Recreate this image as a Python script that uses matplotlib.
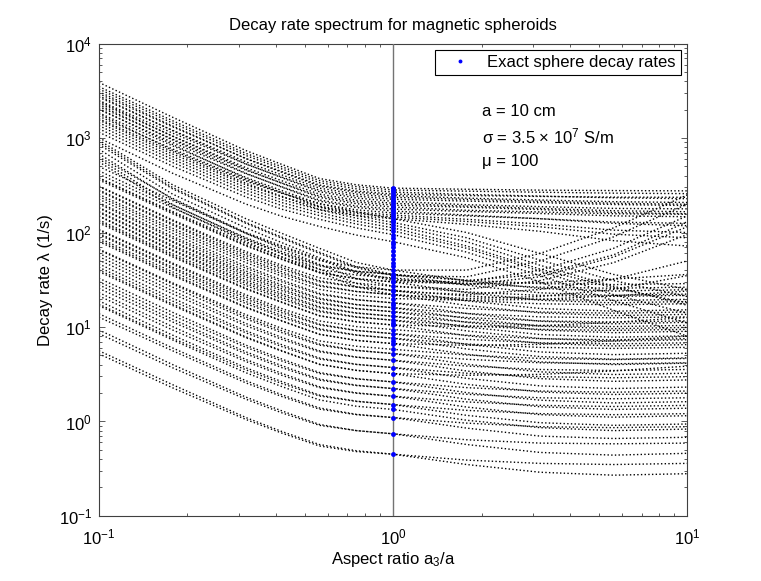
import numpy as np
import matplotlib
matplotlib.use('Agg')
from matplotlib import pyplot as plt

plt.rcParams['font.family'] = ['Liberation Sans', 'DejaVu Sans']
plt.rcParams['mathtext.default'] = 'regular'
plt.rcParams['font.size'] = 12

aspect = [0.1, 0.178, 0.316, 0.42, 0.562, 0.75, 1.0, 1.78, 3.16, 5.62, 10.0]

# decay rates (1/s) of the lower modes, one row per curve
low_modes = [
    [5.6, 2.45, 1.10, 0.78, 0.57, 0.49, 0.45, 0.35, 0.29, 0.27, 0.28],
    [5.2, 2.27, 1.05, 0.75, 0.55, 0.48, 0.45, 0.39, 0.36, 0.35, 0.36],
    [9.3, 4.0, 1.81, 1.29, 0.93, 0.80, 0.74, 0.57, 0.47, 0.44, 0.46],
    [8.5, 3.7, 1.72, 1.23, 0.91, 0.80, 0.74, 0.64, 0.59, 0.58, 0.59],
    [13.8, 6.0, 2.70, 1.91, 1.39, 1.19, 1.10, 0.85, 0.70, 0.66, 0.68],
    [12.7, 5.6, 2.56, 1.83, 1.35, 1.18, 1.10, 0.96, 0.88, 0.86, 0.88],
    [16.8, 7.3, 3.28, 2.33, 1.69, 1.45, 1.34, 1.03, 0.86, 0.80, 0.83],
    [18.9, 8.2, 3.70, 2.63, 1.90, 1.64, 1.51, 1.16, 0.97, 0.91, 0.94],
    [17.4, 7.6, 3.52, 2.51, 1.86, 1.63, 1.51, 1.31, 1.21, 1.18, 1.21],
    [23.1, 10.1, 4.53, 3.22, 2.33, 2.01, 1.85, 1.42, 1.18, 1.11, 1.15],
    [21.3, 9.3, 4.31, 3.07, 2.28, 1.99, 1.85, 1.61, 1.48, 1.44, 1.48],
    [27.9, 12.1, 5.46, 3.88, 2.81, 2.42, 2.23, 1.72, 1.43, 1.34, 1.38],
    [25.6, 11.3, 5.20, 3.70, 2.74, 2.40, 2.23, 1.94, 1.78, 1.74, 1.78],
    [32.8, 14.3, 6.42, 4.56, 3.30, 2.84, 2.62, 2.02, 1.68, 1.57, 1.62],
    [30.1, 13.2, 6.10, 4.35, 3.22, 2.82, 2.62, 2.28, 2.10, 2.04, 2.10],
    [40.1, 17.5, 7.86, 5.59, 4.04, 3.48, 3.21, 2.47, 2.05, 1.93, 1.99],
    [38.5, 16.9, 7.70, 5.52, 4.01, 3.47, 3.21, 3.08, 3.15, 3.43, 3.85],
    [46.5, 20.2, 9.11, 6.47, 4.69, 4.03, 3.72, 2.86, 2.38, 2.23, 2.31],
    [42.8, 18.8, 8.67, 6.18, 4.58, 4.01, 3.72, 3.24, 2.98, 2.90, 2.98],
    [55.5, 24.2, 10.9, 7.73, 5.59, 4.81, 4.44, 3.42, 2.84, 2.66, 2.75],
    [51.1, 22.4, 10.3, 7.37, 5.46, 4.78, 4.44, 3.86, 3.55, 3.46, 3.55],
    [65.4, 28.5, 12.8, 9.10, 6.59, 5.67, 5.23, 4.03, 3.35, 3.14, 3.24],
    [60.1, 26.4, 12.2, 8.68, 6.43, 5.63, 5.23, 4.55, 4.18, 4.08, 4.18],
    [66.7, 29.3, 13.5, 9.63, 7.13, 6.25, 5.8, 5.05, 4.64, 4.52, 4.64],
    [83.4, 36.3, 16.3, 11.6, 8.40, 7.23, 6.67, 5.14, 4.27, 4.0, 4.14],
    [80.0, 35.0, 16.0, 11.5, 8.34, 7.20, 6.67, 6.40, 6.54, 7.14, 8.0],
    [95, 41.3, 18.6, 13.2, 9.58, 8.24, 7.6, 5.85, 4.86, 4.56, 4.71],
    [87.4, 38.4, 17.7, 12.6, 9.35, 8.19, 7.6, 6.61, 6.08, 5.93, 6.08],
    [106, 46.2, 20.8, 14.8, 10.7, 9.21, 8.5, 6.55, 5.44, 5.1, 5.27],
    [97.8, 42.9, 19.8, 14.1, 10.5, 9.15, 8.5, 7.4, 6.8, 6.63, 6.8],
    [108, 47.5, 21.9, 15.6, 11.6, 10.1, 9.4, 8.18, 7.52, 7.33, 7.52],
    [131, 57.1, 25.7, 18.3, 13.2, 11.4, 10.5, 8.09, 6.72, 6.3, 6.51],
    [126, 55.1, 25.2, 18.1, 13.1, 11.3, 10.5, 10.1, 10.3, 11.2, 12.6],
    [148, 64.2, 28.9, 20.5, 14.9, 12.8, 11.8, 9.09, 7.55, 7.08, 7.32],
    [136, 59.6, 27.5, 19.6, 14.5, 12.7, 11.8, 10.3, 9.44, 9.2, 9.44],
    [163, 70.7, 31.9, 22.6, 16.4, 14.1, 13.0, 10.0, 8.32, 7.8, 8.06],
    [150, 65.7, 30.3, 21.6, 16.0, 14.0, 13.0, 11.3, 10.4, 10.1, 10.4],
    [181, 78.9, 35.5, 25.2, 18.3, 15.7, 14.5, 11.2, 9.28, 8.7, 9.0],
    [167, 73.2, 33.8, 24.1, 17.8, 15.6, 14.5, 12.6, 11.6, 11.3, 11.6],
    [200, 87, 39.2, 27.8, 20.2, 17.3, 16.0, 12.3, 10.2, 9.6, 9.9],
    [184, 80.8, 37.3, 26.6, 19.7, 17.2, 16.0, 13.9, 12.8, 12.5, 12.8],
    [225, 97.9, 44.1, 31.3, 22.7, 19.5, 18.0, 13.9, 11.5, 10.8, 11.2],
    [207, 90.9, 41.9, 29.9, 22.1, 19.4, 18.0, 15.7, 14.4, 14.0, 14.4],
    [240, 105, 48, 34.4, 25, 21.6, 20.0, 19.2, 19.6, 21.4, 24],
    [275, 120, 53.9, 38.3, 27.7, 23.8, 22.0, 16.9, 14.1, 13.2, 13.6],
    [253, 111, 51.3, 36.5, 27.1, 23.7, 22.0, 19.1, 17.6, 17.2, 17.6],
    [306, 133, 60, 42.6, 30.9, 26.6, 24.5, 18.9, 15.7, 14.7, 15.2],
    [282, 124, 57.1, 40.7, 30.1, 26.4, 24.5, 21.3, 19.6, 19.1, 19.6],
    [311, 136, 62.9, 44.8, 33.2, 29.1, 27.0, 23.5, 21.6, 21.1, 21.6],
    [375, 163, 73.5, 52.2, 37.8, 32.5, 30.0, 23.1, 19.2, 18.0, 18.6],
    [360, 158, 72, 51.6, 37.5, 32.4, 30.0, 28.8, 29.4, 32.1, 36],
    [380, 167, 76.9, 54.8, 40.6, 35.5, 33.0, 28.7, 26.4, 25.7, 26.4],
    [450, 196, 88.2, 62.6, 45.4, 39.0, 36.0, 27.7, 23.0, 21.6, 22.3],
    [414, 182, 83.9, 59.8, 44.3, 38.8, 36.0, 31.3, 28.8, 28.1, 28.8],
    [500, 218, 98, 69.6, 50.4, 43.4, 40.0, 30.8, 25.6, 24.0, 24.8],
]

# modes that drop steeply on the oblate side and climb again on the prolate side
rising_modes = [
    [560, 185, 80, 55, 38, 26.6, 22, 20, 21, 25, 35],
    [600, 198, 86, 59.4, 41, 28.9, 24, 22, 25, 32, 50],
    [680, 225, 98, 67.1, 46, 32.5, 27, 25, 31, 48, 95],
    [630, 230, 100, 72.1, 52, 37.1, 31, 30, 40, 68, 150],
    [760, 255, 112, 77.8, 54, 38.4, 32, 28, 34, 55, 115],
    [850, 290, 125, 86.6, 60, 42.3, 35, 34, 50, 90, 200],
    [900, 300, 128, 89.1, 62, 43.5, 36, 31, 36, 58, 130],
    [950, 320, 140, 97.6, 68, 48.2, 40, 40, 60, 112, 250],
]

# modes that keep falling across the whole range
falling_modes = [
    [1000, 424, 200, 148, 116, 94, 80, 54, 30, 15, 8],
    [1150, 504, 238, 176, 138, 112, 95, 62, 35, 19, 11],
    [1250, 551, 260, 192, 151, 123, 104, 68, 39, 22, 14],
    [1350, 594, 280, 207, 162, 132, 112, 72, 41, 26, 18],
    [1450, 636, 300, 222, 174, 142, 120, 80, 45, 27, 17],
    [1550, 678, 320, 237, 186, 151, 128, 88, 51, 31, 21],
    [1800, 742, 350, 259, 203, 165, 140, 100, 60, 36, 25],
]

# upper band, nearly flat for prolate shapes
upper_modes = [
    [3880, 1660, 737, 524, 373, 320, 295, 287, 281, 278, 276],
    [3500, 1526, 689, 495, 355, 306, 282, 274, 267, 261, 258],
    [3300, 1440, 654, 469, 337, 290, 268, 253, 243, 233, 228],
    [2950, 1314, 608, 440, 318, 275, 255, 246, 241, 237, 236],
    [3100, 1343, 605, 433, 310, 267, 246, 231, 221, 212, 208],
    [2700, 1208, 560, 406, 295, 255, 236, 224, 214, 204, 199],
    [2500, 1128, 529, 385, 280, 243, 225, 215, 207, 198, 193],
    [2800, 1199, 533, 379, 270, 232, 214, 197, 188, 180, 178],
    [2350, 1049, 486, 352, 255, 220, 204, 190, 180, 170, 166],
    [2150, 973, 457, 333, 243, 211, 195, 185, 175, 163, 158],
    [2450, 1046, 465, 331, 235, 202, 186, 172, 165, 158, 156],
    [2000, 899, 419, 304, 221, 191, 177, 167, 159, 150, 147],
    [2250, 957, 424, 301, 214, 184, 169, 153, 140, 125, 118],
    [1850, 826, 383, 277, 201, 174, 161, 150, 140, 129, 125],
    [1700, 767, 360, 262, 190, 165, 153, 138, 123, 106, 100],
    [2050, 857, 373, 263, 186, 159, 146, 131, 115, 96, 88],
    [1600, 717, 332, 241, 175, 151, 140, 122, 103, 82, 72],
]

# exact sphere decay rates (aspect ratio 1)
sphere_rates = [0.45, 0.74, 1.10, 1.34, 1.51, 1.85, 2.23, 2.62, 3.21, 3.72,
                4.44, 5.23, 5.8, 6.67, 7.1, 7.6, 8.5, 9.4, 10.5, 11.1, 11.8,
                13.0, 14.5, 16.0, 17.0, 18.0, 20.0, 22.0, 24.0, 24.5, 27.0,
                30.0, 31.0, 33.0, 35.0, 36.0, 40.0, 44, 48, 53, 58, 64, 70,
                75, 80, 88, 95, 104, 112, 120, 128, 134, 140, 146, 153, 161,
                169, 177, 186, 195, 204, 214, 225, 236, 248, 260, 272, 282, 295]

fig = plt.figure(figsize=(7.61, 5.81), dpi=100)
ax = fig.add_axes([0.13, 0.112, 0.773, 0.813])

for group in [low_modes, rising_modes, falling_modes, upper_modes]:
    for row in group:
        ax.loglog(aspect, row, color='k', ls=':', lw=1.0)

ax.axvline(1.0, color='0.45', lw=1.0, zorder=3)
ax.loglog(np.ones(len(sphere_rates)), sphere_rates, 'o', color='b', ms=3.5,
          mew=0, zorder=4, label='Exact sphere decay rates')

ax.set_xlim(0.1, 10)
ax.set_ylim(0.1, 1e4)
ax.set_title('Decay rate spectrum for magnetic spheroids', fontsize=12, pad=10)
ax.set_xlabel('Aspect ratio a$_3$/a', labelpad=2)
ax.set_ylabel('Decay rate λ (1/s)')

ax.tick_params(which='both', direction='in', top=True, right=True, colors='0.25',
               labelcolor='k', labelsize=12)
ax.tick_params(which='major', length=4.5, width=0.6)
ax.tick_params(which='minor', length=2.5, width=0.6)
ax.tick_params(axis='x', which='major', pad=8)
ax.tick_params(axis='y', which='major', pad=5)
for s in ax.spines.values():
    s.set_color('0.25')
    s.set_linewidth(0.8)

ax.text(0.651, 0.857, 'a = 10 cm', transform=ax.transAxes, va='center')
ax.text(0.651, 0.804, 'σ = 3.5 × 10$^7$ S/m', transform=ax.transAxes, va='center')
ax.text(0.651, 0.751, 'μ = 100', transform=ax.transAxes, va='center')

leg = ax.legend(loc='upper right', fancybox=False, edgecolor='k', framealpha=1,
                handlelength=2.4, handletextpad=0.4, borderaxespad=0.4,
                borderpad=0.3, markerscale=0.8)
leg.get_frame().set_linewidth(0.8)

fig.savefig('out.png', dpi=100)
